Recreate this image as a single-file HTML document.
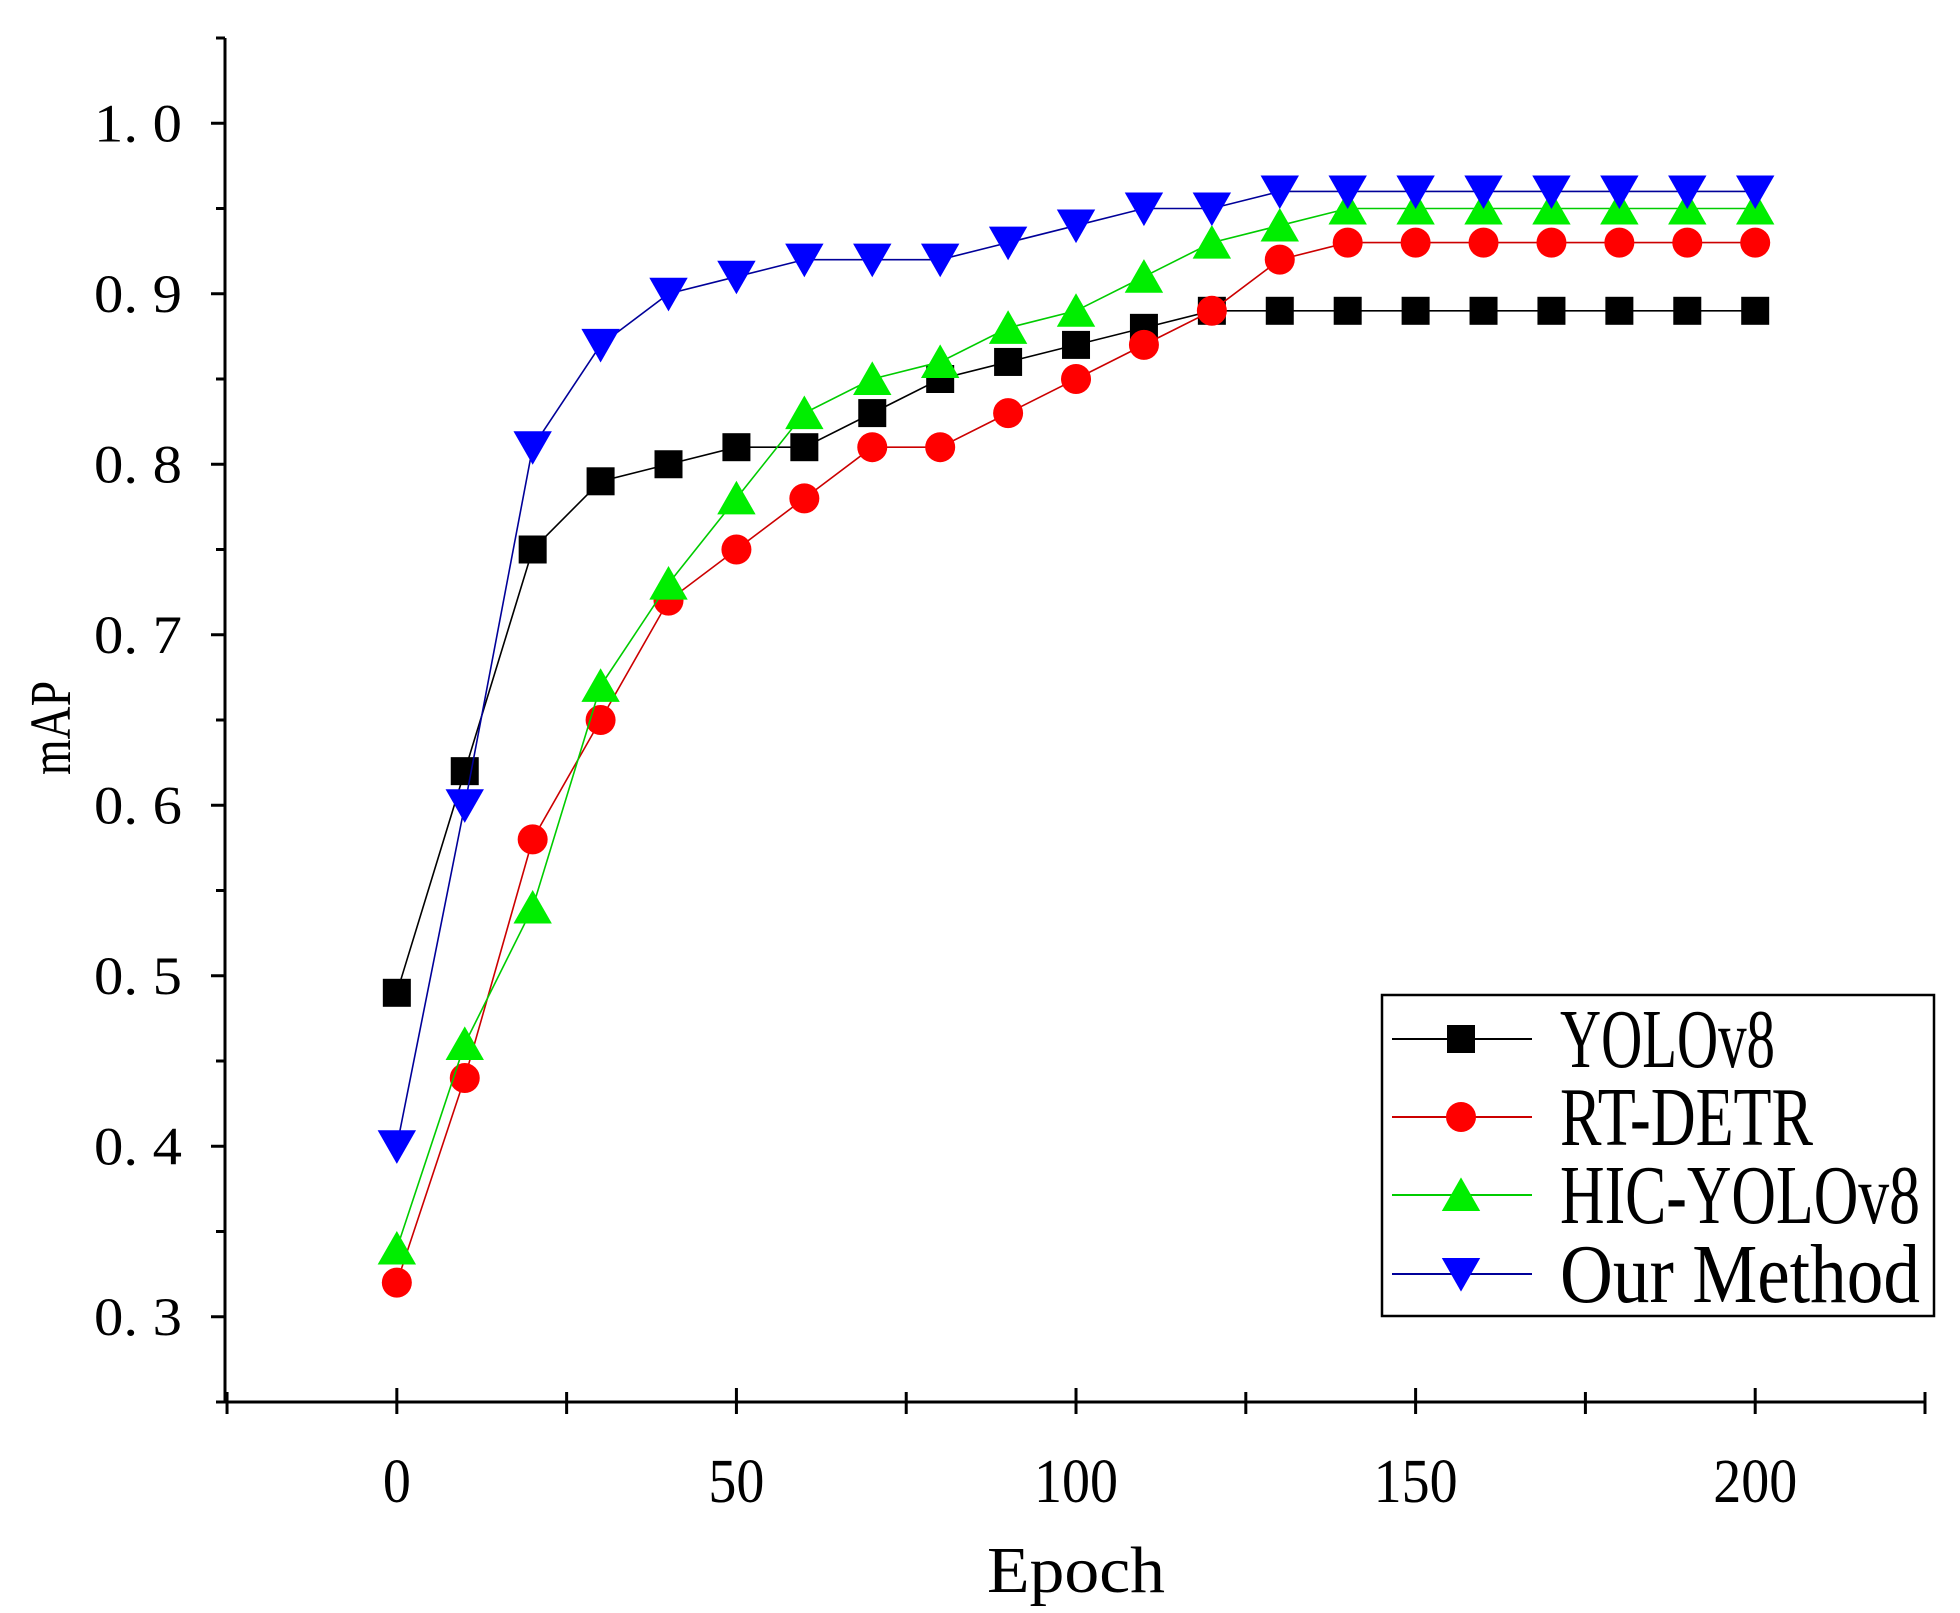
<!DOCTYPE html>
<html><head><meta charset="utf-8"><style>
html,body{margin:0;padding:0;background:#fff;}
svg{display:block;}
text{font-family:"Liberation Serif",serif;fill:#000;}
</style></head><body>
<svg id="chart" width="1960" height="1613" viewBox="0 0 1960 1613" xmlns="http://www.w3.org/2000/svg">
<g id="axes"></g>
<g id="series"></g>
<g id="legend"></g>
</svg>
<script>
const epochs = [0,10,20,30,40,50,60,70,80,90,100,110,120,130,140,150,160,170,180,190,200];
const yolov8 = [0.49,0.62,0.75,0.79,0.80,0.81,0.81,0.83,0.85,0.86,0.87,0.88,0.89,0.89,0.89,0.89,0.89,0.89,0.89,0.89,0.89];
const rtdetr = [0.32,0.44,0.58,0.65,0.72,0.75,0.78,0.81,0.81,0.83,0.85,0.87,0.89,0.92,0.93,0.93,0.93,0.93,0.93,0.93,0.93];
const hicyolo = [0.34,0.46,0.54,0.67,0.73,0.78,0.83,0.85,0.86,0.88,0.89,0.91,0.93,0.94,0.95,0.95,0.95,0.95,0.95,0.95,0.95];
const ours = [0.40,0.60,0.81,0.87,0.90,0.91,0.92,0.92,0.92,0.93,0.94,0.95,0.95,0.96,0.96,0.96,0.96,0.96,0.96,0.96,0.96];
const xTicks = [0,50,100,150,200];
const xTickLabels = ["0","50","100","150","200"];
const yTicks = [0.3,0.4,0.5,0.6,0.7,0.8,0.9,1.0];
const yTickLabels = ["0. 3","0. 4","0. 5","0. 6","0. 7","0. 8","0. 9","1. 0"];
const seriesNames = ["YOLOv8","RT-DETR","HIC-YOLOv8","Our Method"];

const NS="http://www.w3.org/2000/svg";
const X0=225,X1=1925,Y0=1402,Y1=38;
const xMin=-25.3,xMax=225,yMin=0.25,yMax=1.05;
function xs(v){return X0+(v-xMin)/(xMax-xMin)*(X1-X0);}
function ys(v){return Y0-(v-yMin)/(yMax-yMin)*(Y0-Y1);}
function mk(tag,attrs,parent){const e=document.createElementNS(NS,tag);for(const k in attrs)e.setAttribute(k,attrs[k]);parent.appendChild(e);return e;}

const axes=document.getElementById('axes');
let e;
e=mk('line',{x1:X0,y1:Y0,x2:X1,y2:Y0,stroke:'#000','stroke-width':3},axes);


e=mk('line',{x1:X0,y1:Y0,x2:X0,y2:Y1,stroke:'#000','stroke-width':3},axes);


for(let v=-25;v<=225;v+=25){
  const major=(v%50===0);
  e=mk('line',{x1:xs(v),y1:Y0,x2:xs(v),y2:Y0-(major?14:10),stroke:'#000','stroke-width':3},axes);
  
  
  e=mk('line',{x1:xs(v),y1:Y0,x2:xs(v),y2:Y0+12,stroke:'#000','stroke-width':3},axes);
  
  
}
for(let v=0.25;v<=1.051;v+=0.05){
  const major=Math.abs(Math.round(v*10)-v*10)<0.01;
  e=mk('line',{x1:X0,y1:ys(v),x2:X0-(major?14:9),y2:ys(v),stroke:'#000','stroke-width':3},axes);
  
  
}
xTicks.forEach((v,i)=>{
  const t=mk('text',{x:xs(v),y:1502,'font-size':62,'text-anchor':'middle',textLength:xTickLabels[i].length*28,lengthAdjust:'spacingAndGlyphs'},axes);
  t.textContent=xTickLabels[i];
  
  
});
yTicks.forEach((v,i)=>{
  const t=mk('text',{x:94,y:ys(v)+18,'font-size':54,textLength:88,lengthAdjust:'spacingAndGlyphs'},axes);
  t.textContent=yTickLabels[i];
  
  
});
e=mk('text',{x:1076,y:1592,'font-size':66,'text-anchor':'middle',textLength:178,lengthAdjust:'spacingAndGlyphs'},axes);
e.textContent='Epoch';


e=mk('text',{x:0,y:0,'font-size':58,'text-anchor':'middle',textLength:94,lengthAdjust:'spacingAndGlyphs',transform:'translate(70,728) rotate(-90)'},axes);
e.textContent='mAP';



function marker(type,cx,cy,color,parent,s){
  if(type==='square') return mk('rect',{x:cx-s/2,y:cy-s/2,width:s,height:s,fill:color},parent);
  if(type==='circle') return mk('circle',{cx:cx,cy:cy,r:s/2,fill:color},parent);
  if(type==='up') return mk('polygon',{points:`${cx},${cy-s*0.55} ${cx-s*0.6},${cy+s*0.5} ${cx+s*0.6},${cy+s*0.5}`,fill:color},parent);
  return mk('polygon',{points:`${cx},${cy+s*0.55} ${cx-s*0.6},${cy-s*0.5} ${cx+s*0.6},${cy-s*0.5}`,fill:color},parent);
}
const seriesData=[yolov8,rtdetr,hicyolo,ours];
const colors=['#000000','#ff0000','#00ee00','#0000ff'];
const lineColors=['#000000','#cc0000','#00cc00','#000099'];
const types=['square','circle','up','down'];
const sizes=[28,30,32,32];
const keys=['yolov8','rt-detr','hic-yolov8','our-method'];
const sg=document.getElementById('series');
seriesData.forEach((vals,si)=>{
  const g=mk('g',{},sg);
  
  
  const pts=vals.map((v,i)=>xs(epochs[i])+','+ys(v)).join(' ');
  const pl=mk('polyline',{points:pts,fill:'none',stroke:lineColors[si],'stroke-width':1.6},g);
  
  
  vals.forEach((v,i)=>{
    const m=marker(types[si],xs(epochs[i]),ys(v),colors[si],g,sizes[si]);
    
    
  });
});
const lg=document.getElementById('legend');
e=mk('rect',{x:1382,y:995,width:552,height:321,fill:'#fff',stroke:'#000','stroke-width':2.5},lg);


const rowY=[1039,1117,1195,1274];
const textW=[215,253,360,360];
seriesNames.forEach((n,i)=>{
  const g=mk('g',{},lg);
  
  
  mk('line',{x1:1392,y1:rowY[i],x2:1532,y2:rowY[i],stroke:lineColors[i],'stroke-width':2},g);
  marker(types[i],1461,rowY[i],colors[i],g,sizes[i]);
  const t=mk('text',{x:1560,y:rowY[i]+28,'font-size':84,textLength:textW[i],lengthAdjust:'spacingAndGlyphs'},g);
  t.textContent=n;
});
</script>
</body></html>
